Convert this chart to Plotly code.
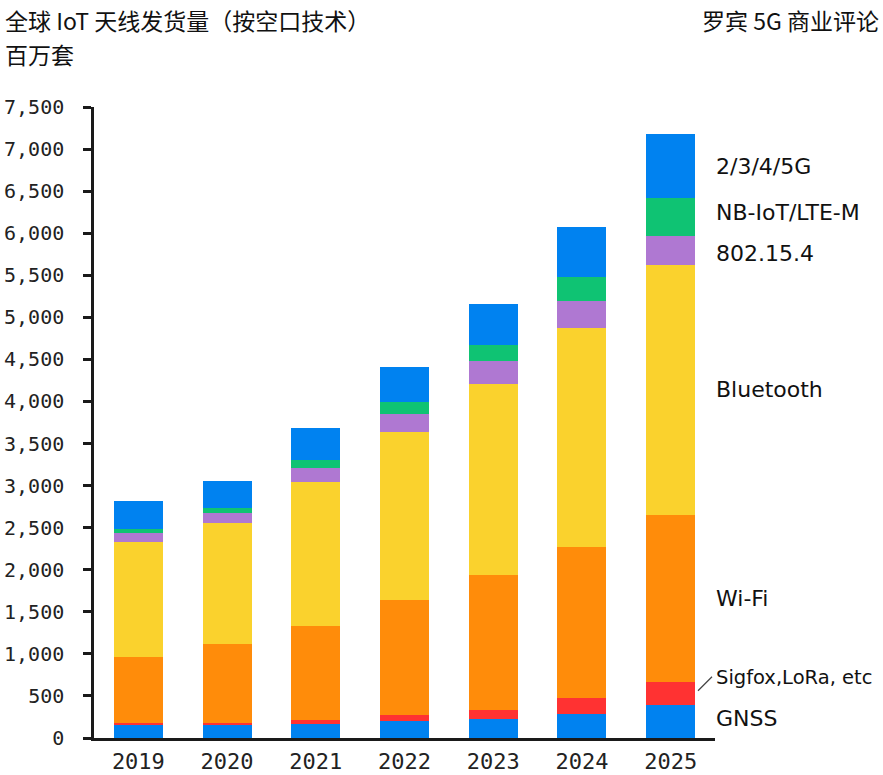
import plotly.graph_objects as go

years = ["2019", "2020", "2021", "2022", "2023", "2024", "2025"]
gnss = [155, 155, 171, 198, 231, 283, 395]
sigfox = [23, 23, 43, 75, 104, 196, 275]
wifi = [785, 939, 1117, 1367, 1598, 1786, 1985]
bluetooth = [1367, 1438, 1712, 1997, 2272, 2605, 2963]
ieee802 = [107, 119, 166, 214, 274, 322, 350]
nbiot = [47, 60, 95, 143, 189, 285, 446]
cellular = [333, 321, 381, 416, 487, 596, 760]

series_names = ["GNSS", "Sigfox,LoRa, etc", "Wi-Fi", "Bluetooth", "802.15.4", "NB-IoT/LTE-M", "2/3/4/5G"]
series_values = [gnss, sigfox, wifi, bluetooth, ieee802, nbiot, cellular]
colors = ["#0082F0", "#FF3232", "#FF8C0A", "#FAD22D", "#AF78D2", "#0FC373", "#0082F0"]

tick_vals = list(range(0, 7501, 500))

W, H = 883, 775
L, R, T, B = 94, 715, 107, 738

def px_x(px):
    return (px - L) / (R - L)

def px_y(py):
    return (B - py) / (B - T)

fig = go.Figure()
for name, vals, col in zip(series_names, series_values, colors):
    fig.add_trace(go.Bar(x=years, y=vals, name=name, marker=dict(color=col, line=dict(width=0)),
                         hoverinfo="skip"))

# labels at right, aligned with 2025 segments (with offsets to avoid overlap)
label_offsets = [38, 185, 0, 0, -40, 60, 0]
label_sizes = [22, 19.5, 22, 22, 22, 22, 22]
cum = 0
annotations = []
label_y = {}
for name, vals, off, fs in zip(series_names, series_values, label_offsets, label_sizes):
    v = vals[-1]
    mid = cum + v / 2
    label_y[name] = mid
    cum += v
    annotations.append(dict(x=px_x(714), xref="paper", y=mid + off, yref="y", text=name,
                            showarrow=False, xanchor="left", yanchor="middle",
                            font=dict(family="DejaVu Sans, sans-serif", size=fs, color="#111111")))

# leader line for Sigfox label
red_mid = label_y["Sigfox,LoRa, etc"]
fig.add_shape(type="line", xref="paper", yref="y", x0=px_x(698), x1=px_x(712),
              y0=red_mid + 30, y1=red_mid + 195, line=dict(color="#444444", width=1.3))

title_font = dict(family="Noto Sans CJK SC, sans-serif", size=23, color="#111111")
annotations += [
    dict(x=px_x(3), xref="paper", y=px_y(20), yref="paper", text="全球 IoT 天线发货量（按空口技术）",
         showarrow=False, xanchor="left", yanchor="middle", font=title_font),
    dict(x=px_x(3), xref="paper", y=px_y(54), yref="paper", text="百万套",
         showarrow=False, xanchor="left", yanchor="middle", font=title_font),
    dict(x=px_x(881), xref="paper", y=px_y(20), yref="paper", text="罗宾 5G 商业评论",
         showarrow=False, xanchor="right", yanchor="middle", font=title_font),
]

tick_font = dict(family="DejaVu Sans Mono, monospace", size=20, color="#222222")
xtick_font = dict(family="DejaVu Sans Mono, monospace", size=22, color="#222222")

fig.update_layout(
    width=W, height=H, autosize=False,
    barmode="stack", bargap=0.448,
    showlegend=False,
    plot_bgcolor="white", paper_bgcolor="white",
    margin=dict(l=L, r=W - R, t=T, b=H - B, pad=0),
    annotations=annotations,
    xaxis=dict(range=[-0.5, 6.5], showline=True, linecolor="#1a1a1a", linewidth=2.5,
               ticks="", tickfont=xtick_font, showgrid=False, zeroline=False,
               ticklabelstandoff=2, automargin=False),
    yaxis=dict(range=[0, 7500], tickvals=tick_vals, tickformat=",", showline=True,
               linecolor="#1a1a1a", linewidth=2.5, ticks="outside", ticklen=8, tickwidth=2.5,
               tickcolor="#1a1a1a", tickfont=tick_font, showgrid=False, zeroline=False,
               ticklabelstandoff=15, automargin=False),
)

fig.write_html("out.html", config={"displayModeBar": False},
               post_script="document.body.style.margin='0';document.body.style.overflow='hidden';")
